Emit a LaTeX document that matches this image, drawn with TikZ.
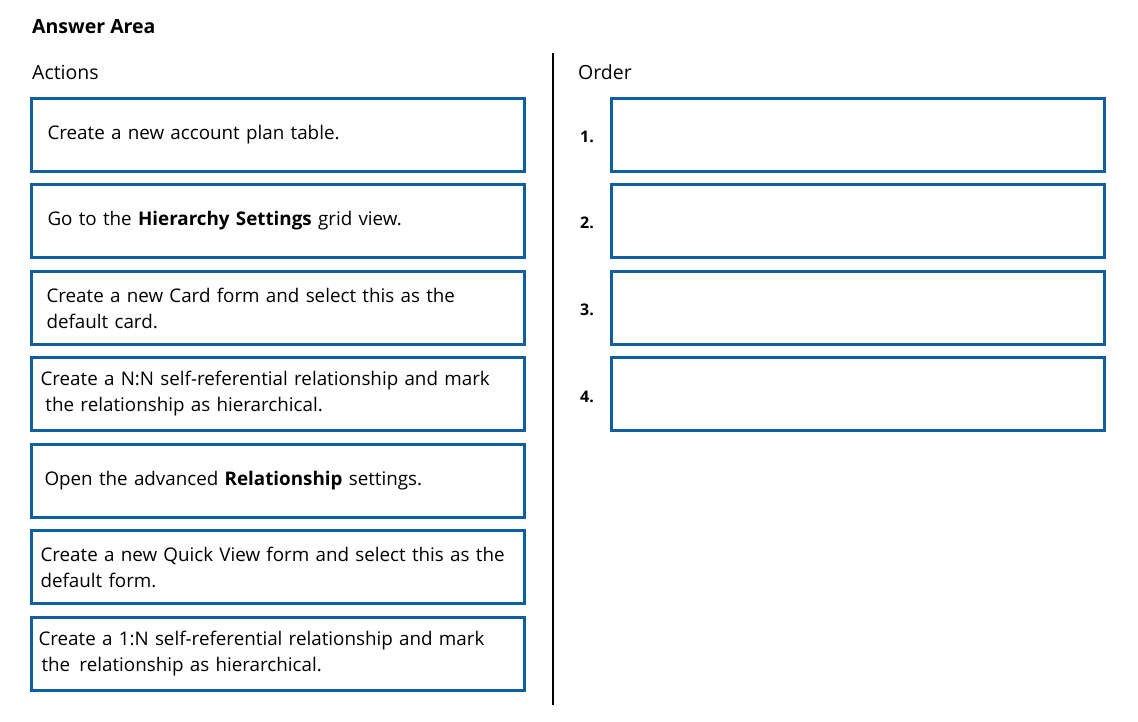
\documentclass[tikz,border=0pt]{standalone}
\usepackage{fontspec}
\setmainfont{Open Sans}
\definecolor{slotblue}{RGB}{14,94,160}
\begin{document}
\begin{tikzpicture}[x=1pt,y=-1pt,
  every node/.style={font=\fontsize{18.8}{26}\selectfont},
  heading/.style={anchor=base west,inner sep=0pt,font=\fontsize{19.5}{22}\selectfont},
  action/.style={draw=slotblue,line width=3pt,minimum width=493pt,minimum height=73pt,
    inner xsep=#1,text width=493pt-2*#1,align=left},
  action/.default=16pt,
  slot/.style={draw=slotblue,line width=3pt,minimum width=493pt,minimum height=73pt},
  number/.style={font=\fontsize{16}{18}\selectfont\bfseries,anchor=west,inner sep=0pt}]
  \useasboundingbox (0,0) rectangle (1138,721);
  \node[heading,font=\fontsize{19.5}{22}\selectfont\bfseries] (title) at (32,33) {Answer Area};
  \node[heading] (actions) at (32,79) {Actions};
  \node[heading] (order) at (578,79) {Order};
  \draw[line width=1.2pt] (553,53) -- (553,705);
  % actions
  \node[action] (a1) at (278,135) {Create a new account plan table.};
  \node[action] (a2) at (278,221) {Go to the \textbf{Hierarchy Settings} grid view.};
  \node[action=15pt] (a3) at (278,308) {Create a new Card form and select this as the\\default card.};
  \node[action=9pt] (a4) at (278,394) {Create a N:N self-referential relationship and mark\\\hspace*{5pt}the relationship as hierarchical.};
  \node[action=13pt] (a5) at (278,481) {Open the advanced \textbf{Relationship} settings.};
  \node[action=9pt] (a6) at (278,567) {Create a new Quick View form and select this as the\\default form.};
  \node[action=7pt] (a7) at (278,654) {Create a 1:N self-referential relationship and mark\\\hspace*{3pt}the\hspace{3pt} relationship as hierarchical.};
  % order
  \node[slot] (s1) at (858,135) {};
  \node[slot] (s2) at (858,221) {};
  \node[slot] (s3) at (858,308) {};
  \node[slot] (s4) at (858,394) {};
  \node[number] (n1) at (580,137) {1.};
  \node[number] (n2) at (580,223) {2.};
  \node[number] (n3) at (580,310) {3.};
  \node[number] (n4) at (580,397) {4.};
\end{tikzpicture}
\end{document}
